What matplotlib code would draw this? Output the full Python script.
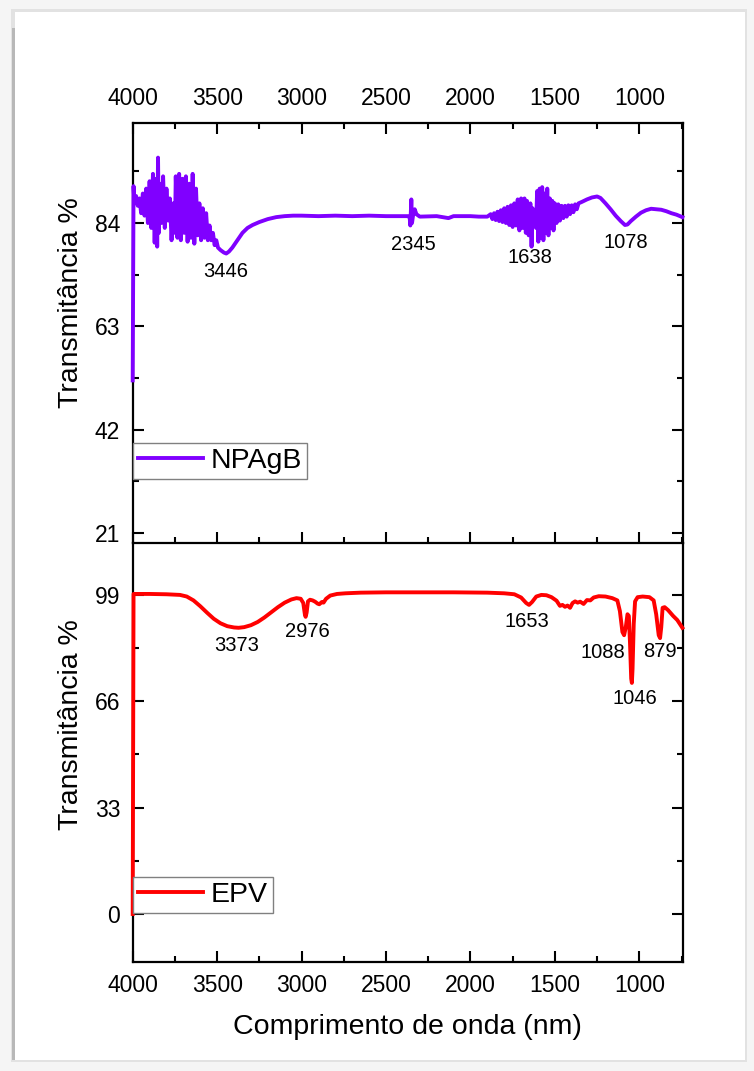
import matplotlib
matplotlib.use("Agg")
import matplotlib.pyplot as plt
from matplotlib.patches import Rectangle
from matplotlib.ticker import MultipleLocator

plt.rcParams['font.family'] = ['Liberation Sans', 'DejaVu Sans']

# NPAgB spectrum (wavenumber, transmittance %)
npagb_x = [4000, 3995, 3990, 3980, 3970, 3960, 3950, 3940, 3930, 3920, 3910,
           3900, 3890, 3880, 3870, 3860, 3855, 3850, 3845, 3840, 3830, 3820,
           3810, 3800, 3790, 3780, 3770, 3760, 3750, 3745, 3735, 3725, 3715,
           3705, 3695, 3685, 3675, 3665, 3655, 3645, 3635, 3625, 3615, 3605,
           3595, 3585, 3575, 3565, 3555, 3545, 3535, 3525, 3515, 3505, 3495,
           3480, 3460, 3446, 3430, 3410, 3390, 3370, 3350, 3320, 3290, 3250,
           3200, 3150, 3100, 3050, 3000, 2900, 2800, 2700, 2600, 2500, 2400,
           2370, 2360, 2356, 2350, 2346, 2340, 2330, 2320, 2300, 2200, 2130,
           2100, 2000, 1950, 1900, 1880, 1870, 1860, 1850, 1840, 1830, 1820,
           1810, 1800, 1790, 1780, 1770, 1760, 1750, 1740, 1730, 1720, 1710,
           1700, 1690, 1680, 1672, 1665, 1655, 1645, 1638, 1632, 1625, 1618,
           1612, 1605, 1598, 1590, 1583, 1575, 1568, 1560, 1553, 1545, 1538,
           1530, 1522, 1515, 1508, 1500, 1490, 1480, 1470, 1460, 1450, 1440,
           1430, 1420, 1410, 1400, 1390, 1380, 1370, 1360, 1340, 1310, 1280,
           1250, 1230, 1200, 1170, 1140, 1110, 1085, 1070, 1050, 1020, 990,
           960, 930, 900, 870, 840, 810, 780, 745]
npagb_y = [52.0, 91.5, 88.0, 89.5, 87.5, 89.0, 86.0, 90.0, 85.5, 91.0, 84.0,
           92.5, 83.0, 94.0, 80.0, 93.0, 79.2, 97.3, 82.0, 92.0, 84.0, 93.5,
           83.0, 91.0, 84.5, 89.0, 80.5, 88.0, 82.0, 93.5, 81.0, 94.0, 80.5,
           93.0, 82.0, 93.5, 80.2, 92.0, 81.0, 94.0, 79.8, 91.0, 81.5, 88.0,
           80.5, 87.0, 81.0, 86.0, 80.5, 83.5, 80.5, 82.0, 79.5, 80.5, 79.0,
           78.5, 78.0, 77.8, 78.2, 79.0, 80.0, 81.0, 82.0, 83.0, 83.6, 84.2,
           84.8, 85.2, 85.4, 85.5, 85.5, 85.4, 85.5, 85.4, 85.5, 85.4, 85.4,
           85.4, 85.2, 83.5, 88.8, 84.0, 85.5, 86.8, 85.8, 85.3, 85.4, 85.0,
           85.4, 85.4, 85.3, 85.3, 85.8, 84.8, 86.0, 84.6, 86.3, 84.4, 86.6,
           84.2, 87.0, 84.0, 87.3, 83.6, 87.6, 83.2, 88.0, 83.5, 88.8, 82.5,
           89.0, 83.0, 89.0, 82.0, 88.5, 81.5, 88.0, 79.2, 87.0, 84.0, 86.5,
           83.0, 90.5, 80.2, 91.0, 81.0, 91.3, 80.5, 90.0, 82.0, 91.0, 81.5,
           89.0, 83.0, 88.5, 82.5, 88.0, 84.0, 87.8, 84.5, 87.5, 85.0, 87.5,
           85.3, 87.6, 85.8, 87.6, 86.2, 87.8, 86.8, 88.0, 88.3, 88.8, 89.2,
           89.4, 89.1, 88.0, 86.8, 85.5, 84.4, 83.6, 83.7, 84.4, 85.3, 86.1,
           86.6, 86.9, 86.8, 86.7, 86.4, 86.0, 85.7, 85.2]

# EPV spectrum
epv_x = [4000, 3995, 3900, 3800, 3720, 3680, 3640, 3600, 3560, 3520, 3480,
         3440, 3400, 3373, 3340, 3300, 3260, 3220, 3180, 3140, 3100, 3060,
         3030, 3005, 2990, 2980, 2976, 2970, 2962, 2950, 2935, 2920, 2905,
         2895, 2880, 2870, 2855, 2830, 2790, 2740, 2650, 2500, 2300, 2100,
         1900, 1800, 1740, 1700, 1670, 1653, 1635, 1610, 1580, 1550, 1520,
         1490, 1470, 1455, 1440, 1425, 1410, 1395, 1380, 1365, 1350, 1330,
         1310, 1290, 1270, 1240, 1200, 1160, 1130, 1115, 1100, 1090, 1080,
         1070, 1062, 1055, 1048, 1044, 1040, 1033, 1025, 1010, 980, 940,
         915, 900, 885, 877, 870, 862, 850, 830, 800, 775, 760, 745]
epv_y = [0.0, 99.3, 99.3, 99.2, 99.0, 98.5, 97.3, 95.5, 93.5, 91.6, 90.2,
         89.3, 88.9, 88.8, 89.0, 89.6, 90.6, 92.0, 93.6, 95.2, 96.6, 97.6,
         98.0, 97.8, 96.5, 92.8, 92.2, 93.5, 97.0, 97.5, 97.3, 96.9, 96.3,
         96.1, 96.8, 96.6, 97.8, 98.8, 99.3, 99.5, 99.7, 99.8, 99.8, 99.8,
         99.7, 99.5, 99.2, 98.2, 96.5, 95.9, 96.8, 98.5, 99.0, 98.9, 98.3,
         97.2, 95.6, 95.9, 95.3, 95.7, 95.0, 96.5, 97.0, 96.6, 96.9, 96.2,
         97.4, 97.3, 98.2, 98.6, 98.5, 98.0, 97.3, 94.0, 87.5, 86.5, 89.0,
         93.0, 92.5, 84.0, 73.0, 71.7, 76.0, 90.0, 97.0, 98.3, 98.5, 98.3,
         97.3, 93.0, 86.5, 85.6, 89.0, 95.0, 95.2, 94.3, 92.5, 91.2, 90.0,
         88.8]

# peak labels: text, x, y (data coords)
npagb_labels = [("3446", 3447, 74.1), ("2345", 2340, 79.6),
                ("1638", 1647, 77.0), ("1078", 1079, 80.0)]
epv_labels = [("3373", 3382, 83.2), ("2976", 2967, 87.5), ("1653", 1665, 90.9),
              ("1088", 1215, 81.0), ("879", 877, 81.3), ("1046", 1025, 67.0)]

x_ticks = [4000, 3500, 3000, 2500, 2000, 1500, 1000]
top_yticks = [21, 42, 63, 84]
bot_yticks = [0, 33, 66, 99]

W, H = 754, 1071
fig = plt.figure(figsize=(W / 100, H / 100), dpi=100)
fig.patch.set_facecolor('#f5f5f5')

# card with a soft shadow (darker on the left)
fig.patches.append(Rectangle((11 / W, 1 - 1062 / H), 736 / W, 1053 / H,
                             transform=fig.transFigure, fc='#e2e2e2', ec='none', zorder=-4))
fig.patches.append(Rectangle((12 / W, 1 - 1060 / H), 5 / W, 1032 / H,
                             transform=fig.transFigure, fc='#b8b8b8', ec='none', zorder=-3))
fig.patches.append(Rectangle((15 / W, 1 - 1060 / H), 730 / W, 1048 / H,
                             transform=fig.transFigure, fc='white', ec='none', zorder=-2))

left, width = 132.7 / W, 550 / W
ax1 = fig.add_axes([left, 1 - 542.7 / H, width, 420 / H])
ax2 = fig.add_axes([left, 1 - 961.7 / H, width, 419 / H])

purple = '#8000ff'
red = '#ff0000'

ax1.plot(npagb_x, npagb_y, color=purple, lw=2.8, label='NPAgB', zorder=3,
         clip_on=False, solid_joinstyle='round')
ax2.plot(epv_x, epv_y, color=red, lw=2.8, label='EPV', zorder=3,
         clip_on=False, solid_joinstyle='round')

for ax in (ax1, ax2):
    ax.set_xlim(4000, 743)
    ax.set_xticks(x_ticks)
    ax.xaxis.set_minor_locator(MultipleLocator(250))
    for s in ax.spines.values():
        s.set_linewidth(1.6)
    ax.tick_params(which='major', direction='in', length=8, width=1.5,
                   labelsize=16.5, pad=9)
    ax.tick_params(which='minor', direction='in', length=4.5, width=1.5)
    ax.set_facecolor('none')

ax1.set_ylim(19.0, 104.4)
ax1.set_yticks(top_yticks)
ax1.yaxis.set_minor_locator(MultipleLocator(10.5))
ax1.tick_params(which='both', top=True, bottom=True, left=True, right=True,
                labeltop=True, labelbottom=False)

ax2.set_ylim(-14.8, 115.2)
ax2.set_yticks(bot_yticks)
ax2.yaxis.set_minor_locator(MultipleLocator(16.5))
ax2.tick_params(which='both', top=False, bottom=True, left=True, right=True)
ax2.spines['top'].set_visible(False)

ax1.set_ylabel('Transmitância %', fontsize=20.5)
ax1.yaxis.set_label_coords(-0.088, 0.571)
ax2.set_ylabel('Transmitância %', fontsize=20.5)
ax2.yaxis.set_label_coords(-0.088, 0.567)
ax2.set_xlabel('Comprimento de onda (nm)', fontsize=20.5, labelpad=12)

for txt, x, y in npagb_labels:
    ax1.text(x, y, txt, fontsize=14.5, ha='center', va='center')
for txt, x, y in epv_labels:
    ax2.text(x, y, txt, fontsize=14.5, ha='center', va='center')

leg_kw = dict(loc='lower left', fontsize=20.5, frameon=True, fancybox=False,
              handlelength=2.3, handletextpad=0.25, borderpad=0.18,
              borderaxespad=0)
l1 = ax1.legend(bbox_to_anchor=(0.0, 0.152), **leg_kw)
l2 = ax2.legend(bbox_to_anchor=(0.0, 0.116), **leg_kw)
for lg in (l1, l2):
    fr = lg.get_frame()
    fr.set_edgecolor('#808080')
    fr.set_linewidth(1.0)
    fr.set_alpha(1)
    lg.set_zorder(4)

fig.savefig('out.png', dpi=100, facecolor=fig.get_facecolor())
